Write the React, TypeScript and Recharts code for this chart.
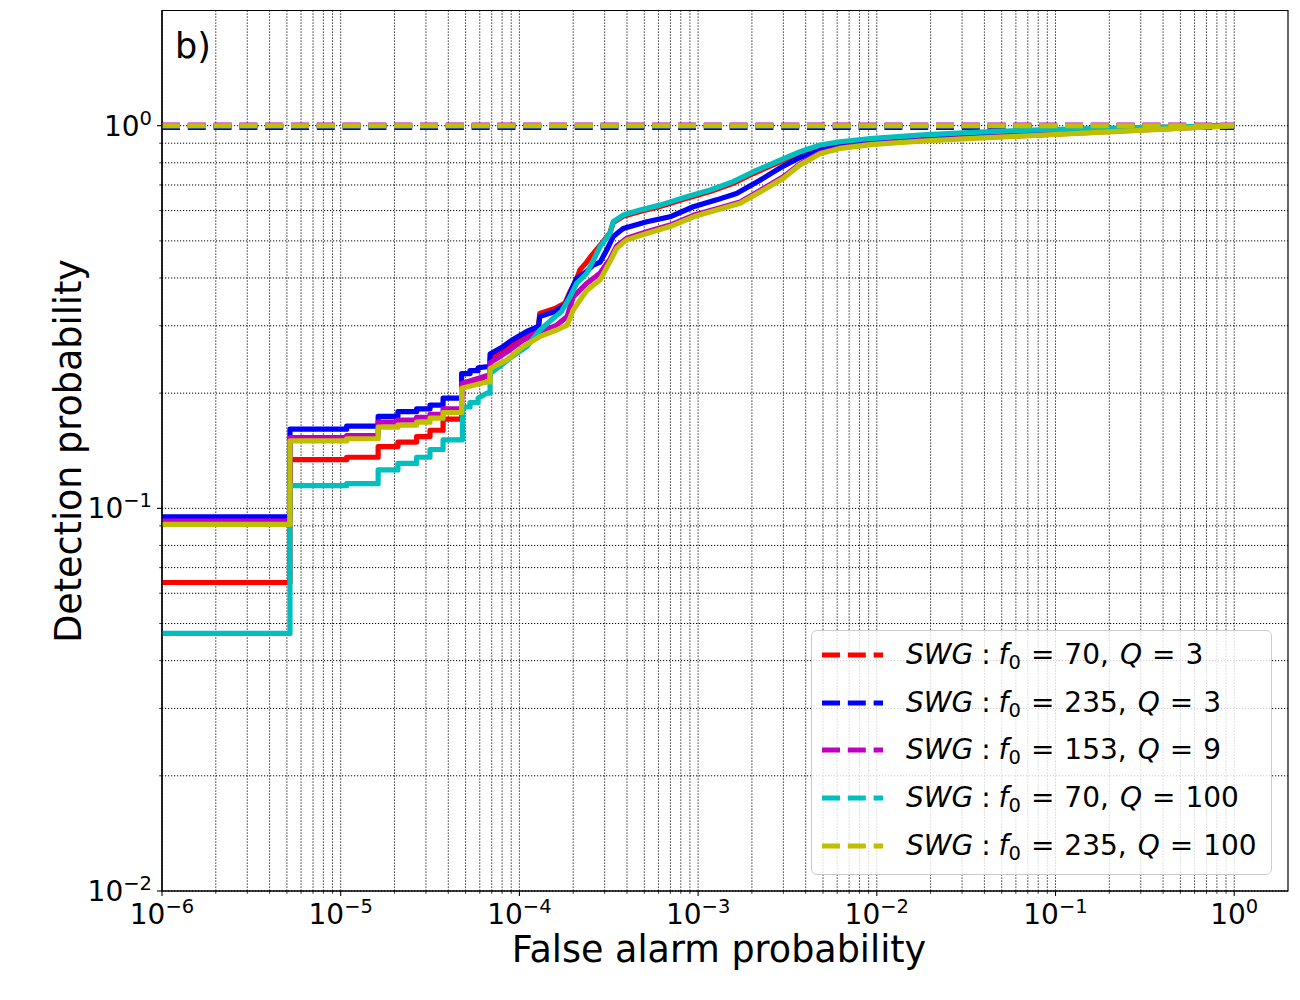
import React from 'react';
import { CartesianGrid, Legend, Line, LineChart, ReferenceArea, XAxis, YAxis } from 'recharts';

// series order: solid ROC curve + dashed reference per detector
const COLORS = ['#ff0000', '#0000ff', '#bf00bf', '#00bfbf', '#bfbf00'];
const F0 = [70, 235, 153, 70, 235];
const QS = [3, 3, 9, 100, 100];
const REF_LEVEL = [1.0, 0.989, 1.004, 1.0, 1.0];
const REF_FA = [1e-6, 1];

// [false alarm, detection]
const ROC_RED = [
  [1e-6, 0.064], [5.2e-6, 0.064], [5.2e-6, 0.134], [1.08e-5, 0.134], [1.08e-5, 0.136], [1.62e-5, 0.136],
  [1.62e-5, 0.145], [2.09e-5, 0.145], [2.09e-5, 0.149], [2.66e-5, 0.149], [2.66e-5, 0.154], [3.16e-5, 0.154],
  [3.16e-5, 0.16], [3.74e-5, 0.16], [3.74e-5, 0.171], [4.75e-5, 0.171], [4.75e-5, 0.208], [5.3e-5, 0.212],
  [5.9e-5, 0.216], [6.6e-5, 0.222], [6.85e-5, 0.222], [6.85e-5, 0.246], [8.1e-5, 0.258], [9.1e-5, 0.268],
  [1.1e-4, 0.285], [1.28e-4, 0.3], [1.3e-4, 0.323], [1.58e-4, 0.333], [1.8e-4, 0.344], [1.92e-4, 0.368],
  [2.09e-4, 0.397], [2.18e-4, 0.42], [2.38e-4, 0.44], [2.48e-4, 0.452], [2.83e-4, 0.487], [3.21e-4, 0.525],
  [3.35e-4, 0.558], [3.81e-4, 0.58], [4.73e-4, 0.597], [6.12e-4, 0.615], [8.64e-4, 0.646], [1.17e-3, 0.673],
  [1.57e-3, 0.707], [2.04e-3, 0.75], [2.75e-3, 0.797], [3.72e-3, 0.846], [4.81e-3, 0.882], [6.22e-3, 0.901],
  [9.56e-3, 0.921], [1.82e-2, 0.941], [3.47e-2, 0.956], [8.19e-2, 0.971], [0.215, 0.983], [1, 1],
];
const ROC_BLUE = [
  [1e-6, 0.095], [5.2e-6, 0.095], [5.2e-6, 0.161], [1.08e-5, 0.161], [1.08e-5, 0.164], [1.62e-5, 0.164],
  [1.62e-5, 0.174], [2.09e-5, 0.174], [2.09e-5, 0.179], [2.66e-5, 0.179], [2.66e-5, 0.182], [3.16e-5, 0.182],
  [3.16e-5, 0.186], [3.74e-5, 0.186], [3.74e-5, 0.194], [4.75e-5, 0.194], [4.75e-5, 0.225], [5.29e-5, 0.225],
  [5.29e-5, 0.229], [5.87e-5, 0.229], [5.87e-5, 0.233], [6.85e-5, 0.235], [6.85e-5, 0.253], [8.13e-5, 0.265],
  [9.06e-5, 0.275], [1.1e-4, 0.29], [1.28e-4, 0.299], [1.3e-4, 0.317], [1.58e-4, 0.327], [1.8e-4, 0.34],
  [1.92e-4, 0.365], [2.09e-4, 0.399], [2.38e-4, 0.416], [2.59e-4, 0.432], [2.83e-4, 0.44], [3.08e-4, 0.473],
  [3.35e-4, 0.513], [3.81e-4, 0.539], [5.16e-4, 0.561], [6.96e-4, 0.578], [9.4e-4, 0.614], [1.27e-3, 0.64],
  [1.64e-3, 0.665], [2.22e-3, 0.72], [2.87e-3, 0.775], [3.72e-3, 0.826], [4.81e-3, 0.862], [6.22e-3, 0.886],
  [9.56e-3, 0.907], [1.82e-2, 0.926], [3.47e-2, 0.94], [8.19e-2, 0.955], [0.215, 0.975], [1, 1],
];
const ROC_MAGENTA = [
  [1e-6, 0.0926], [5.2e-6, 0.0926], [5.2e-6, 0.153], [1.08e-5, 0.153], [1.08e-5, 0.155], [1.62e-5, 0.155],
  [1.62e-5, 0.168], [2.09e-5, 0.168], [2.09e-5, 0.17], [2.66e-5, 0.17], [2.66e-5, 0.173], [3.16e-5, 0.173],
  [3.16e-5, 0.176], [3.74e-5, 0.176], [3.74e-5, 0.182], [4.75e-5, 0.182], [4.75e-5, 0.212], [6.56e-5, 0.222],
  [6.85e-5, 0.222], [6.85e-5, 0.24], [8.5e-5, 0.256], [1.05e-4, 0.275], [1.3e-4, 0.29], [1.6e-4, 0.3],
  [1.85e-4, 0.317], [2.0e-4, 0.357], [2.38e-4, 0.387], [2.83e-4, 0.412], [3.2e-4, 0.447], [3.5e-4, 0.485],
  [3.98e-4, 0.508], [5.16e-4, 0.528], [6.96e-4, 0.55], [9.4e-4, 0.583], [1.27e-3, 0.607], [1.72e-3, 0.632],
  [2.32e-3, 0.685], [3.0e-3, 0.735], [3.72e-3, 0.795], [4.81e-3, 0.85], [6.22e-3, 0.876], [9.56e-3, 0.897],
  [1.82e-2, 0.915], [3.47e-2, 0.93], [8.19e-2, 0.946], [0.215, 0.967], [1, 1],
];
const ROC_CYAN = [
  [1e-6, 0.0471], [5.2e-6, 0.0471], [5.2e-6, 0.1146], [1.08e-5, 0.1146], [1.08e-5, 0.116], [1.62e-5, 0.116],
  [1.62e-5, 0.126], [2.09e-5, 0.126], [2.09e-5, 0.131], [2.66e-5, 0.131], [2.66e-5, 0.136], [3.16e-5, 0.136],
  [3.16e-5, 0.1425], [3.74e-5, 0.1425], [3.74e-5, 0.151], [4.8e-5, 0.151], [4.8e-5, 0.184], [5.29e-5, 0.184],
  [5.29e-5, 0.189], [5.87e-5, 0.189], [5.87e-5, 0.194], [6.56e-5, 0.2], [6.85e-5, 0.2], [6.85e-5, 0.225],
  [8.13e-5, 0.239], [9.06e-5, 0.249], [1.1e-4, 0.2645], [1.3e-4, 0.292], [1.5e-4, 0.31], [1.72e-4, 0.327],
  [1.92e-4, 0.357], [2.09e-4, 0.387], [2.38e-4, 0.411], [2.6e-4, 0.446], [2.83e-4, 0.483], [3.21e-4, 0.523],
  [3.35e-4, 0.561], [3.81e-4, 0.584], [4.73e-4, 0.602], [6.12e-4, 0.62], [8.64e-4, 0.652], [1.17e-3, 0.679],
  [1.57e-3, 0.714], [2.04e-3, 0.758], [2.75e-3, 0.805], [3.72e-3, 0.855], [4.81e-3, 0.89], [6.22e-3, 0.908],
  [9.56e-3, 0.927], [1.82e-2, 0.946], [3.47e-2, 0.961], [8.19e-2, 0.975], [0.215, 0.986], [1, 1],
];
const ROC_YELLOW = [
  [1e-6, 0.0908], [5.2e-6, 0.0908], [5.2e-6, 0.15], [1.08e-5, 0.15], [1.08e-5, 0.152], [1.62e-5, 0.152],
  [1.62e-5, 0.163], [2.09e-5, 0.163], [2.09e-5, 0.165], [2.66e-5, 0.165], [2.66e-5, 0.168], [3.16e-5, 0.168],
  [3.16e-5, 0.172], [3.74e-5, 0.172], [3.74e-5, 0.178], [4.75e-5, 0.178], [4.75e-5, 0.206], [6.56e-5, 0.214],
  [6.85e-5, 0.214], [6.85e-5, 0.232], [8.5e-5, 0.244], [1.05e-4, 0.265], [1.3e-4, 0.281], [1.6e-4, 0.292],
  [1.85e-4, 0.301], [2.0e-4, 0.33], [2.38e-4, 0.371], [2.83e-4, 0.396], [3.2e-4, 0.44], [3.5e-4, 0.478],
  [3.98e-4, 0.503], [5.16e-4, 0.523], [6.96e-4, 0.545], [9.4e-4, 0.578], [1.27e-3, 0.602], [1.72e-3, 0.627],
  [2.32e-3, 0.679], [3.0e-3, 0.729], [3.72e-3, 0.79], [4.81e-3, 0.845], [6.22e-3, 0.872], [9.56e-3, 0.894],
  [1.82e-2, 0.912], [3.47e-2, 0.927], [8.19e-2, 0.944], [0.215, 0.965], [1, 1],
];
const ROC = [ROC_RED, ROC_BLUE, ROC_MAGENTA, ROC_CYAN, ROC_YELLOW];

// log axes
const X_DECADES = [-6, -5, -4, -3, -2, -1, 0];
const Y_DECADES = [-2, -1, 0];
const LOG_STEPS = [1, 2, 3, 4, 5, 6, 7, 8, 9];
const X_DOMAIN = [1e-6, 2];
const Y_DOMAIN = [0.01, 2];

const FONT = 'DejaVu Sans';

const logTicks = (decades: number[], max: number) =>
  decades.flatMap((e) => LOG_STEPS.map((m) => m * 10 ** e)).filter((v) => v < max * 0.999);

const X_TICKS = logTicks(X_DECADES, X_DOMAIN[1]);
const Y_TICKS = logTicks(Y_DECADES, Y_DOMAIN[1]);

const exponentOf = (v: number) => Math.round(Math.log10(v));
const isMajor = (v: number) => Math.abs(Math.log10(v) - exponentOf(v)) < 1e-6;
const expText = (v: number) => {
  const e = exponentOf(v);
  return e < 0 ? `\u2212${-e}` : `${e}`;
};

const legendName = (i: number) => `SWG: f0=${F0[i]}, Q=${QS[i]}`;

function XTick(props: any) {
  const { x, y, payload } = props;
  const major = isMajor(payload.value);
  return (
    <g>
      <line x1={x} x2={x} y1={y} y2={y + (major ? 5 : 2.8)} stroke="#000" strokeWidth={major ? 1.1 : 0.8} />
      {major && (
        <text x={x} y={y + 33} textAnchor="middle" fontFamily={FONT} fontSize={28} fill="#000">
          10<tspan dy={-11} fontSize={19.5}>{expText(payload.value)}</tspan>
        </text>
      )}
    </g>
  );
}

function YTick(props: any) {
  const { x, y, payload } = props;
  const major = isMajor(payload.value);
  return (
    <g>
      <line x1={x} x2={x - (major ? 5 : 2.8)} y1={y} y2={y} stroke="#000" strokeWidth={major ? 1.1 : 0.8} />
      {major && (
        <text x={x - 10} y={y + 10} textAnchor="end" fontFamily={FONT} fontSize={28} fill="#000">
          10<tspan dy={-11} fontSize={19.5}>{expText(payload.value)}</tspan>
        </text>
      )}
    </g>
  );
}

function LegendLabel({ i }: { i: number }) {
  return (
    <span style={{ whiteSpace: 'nowrap' }}>
      <i>SWG</i>
      <span style={{ margin: '0 8px' }}>:</span>
      <i>f</i>
      <span style={{ fontSize: 19.5, position: 'relative', top: 5 }}>0</span>
      <span style={{ margin: '0 10px' }}>=</span>
      {F0[i]},
      <i style={{ marginLeft: 11 }}>Q</i>
      <span style={{ margin: '0 10px' }}>=</span>
      {QS[i]}
    </span>
  );
}

function renderLegend(props: any) {
  const payload = props.payload || [];
  return (
    <div
      style={{
        boxSizing: 'border-box',
        width: 461,
        height: 245,
        border: '1px solid #cccccc',
        borderRadius: 6,
        background: 'rgba(255,255,255,0.8)',
        fontFamily: FONT,
        fontSize: 28,
        color: '#000',
      }}
    >
      {F0.map((_, i) => {
        const entry = payload.find((p: any) => p.value === legendName(i));
        const color = entry?.color ?? COLORS[i];
        return (
          <div key={i} style={{ height: 47.7, display: 'flex', alignItems: 'center', lineHeight: 1 }}>
            <svg width={61} height={10} style={{ marginLeft: 10, marginRight: 23, flex: 'none' }}>
              <line x1={0} x2={61} y1={5} y2={5} stroke={color} strokeWidth={5} strokeDasharray="18 7.8" />
            </svg>
            <LegendLabel i={i} />
          </div>
        );
      })}
    </div>
  );
}

export default function App() {
  return (
    <div style={{ position: 'absolute', left: 0, top: 0, width: 1300, height: 1000, background: '#fff' }}>
      <LineChart width={1300} height={1000} margin={{ top: 10.5, right: 12, bottom: 49, left: 62 }}>
        <CartesianGrid
          stroke="#000"
          strokeWidth={1}
          strokeDasharray="1.2 1.8"
          horizontalValues={Y_TICKS}
          verticalValues={X_TICKS}
        />
        <XAxis
          dataKey="fa"
          type="number"
          scale="log"
          domain={X_DOMAIN}
          allowDataOverflow
          ticks={X_TICKS}
          interval={0}
          tick={XTick}
          tickLine={false}
          tickSize={0}
          tickMargin={0}
          axisLine={{ stroke: '#000', strokeWidth: 1.2 }}
          height={60}
        />
        <YAxis
          type="number"
          scale="log"
          domain={Y_DOMAIN}
          allowDataOverflow
          ticks={Y_TICKS}
          interval={0}
          tick={YTick}
          tickLine={false}
          tickSize={0}
          tickMargin={0}
          axisLine={{ stroke: '#000', strokeWidth: 1.2 }}
          width={100}
        />
        {ROC.map((points, i) => [
          <Line
            key={`roc-${i}`}
            data={points.map(([fa, pd]) => ({ fa, pd }))}
            dataKey="pd"
            type="linear"
            stroke={COLORS[i]}
            strokeWidth={5.2}
            strokeLinejoin="round"
            dot={false}
            activeDot={false}
            legendType="none"
            isAnimationActive={false}
          />,
          <Line
            key={`ref-${i}`}
            name={legendName(i)}
            data={REF_FA.map((fa) => ({ fa, pd: REF_LEVEL[i] }))}
            dataKey="pd"
            type="linear"
            stroke={COLORS[i]}
            strokeWidth={5}
            strokeDasharray="18 7.8"
            dot={false}
            activeDot={false}
            isAnimationActive={false}
          />,
        ])}
        <ReferenceArea
          x1={X_DOMAIN[0]}
          x2={X_DOMAIN[1]}
          y1={Y_DOMAIN[0]}
          y2={Y_DOMAIN[1]}
          fill="none"
          stroke="#000"
          strokeWidth={1.2}
          ifOverflow="visible"
        />
        <Legend
          layout="vertical"
          align="center"
          verticalAlign="middle"
          content={renderLegend}
          wrapperStyle={{ left: 811, top: 630, width: 461, height: 245 }}
        />
      </LineChart>
      <svg
        width={1300}
        height={1000}
        style={{ position: 'absolute', left: 0, top: 0, pointerEvents: 'none' }}
      >
        <text x={719} y={962} textAnchor="middle" fontFamily={FONT} fontSize={36.5} fill="#000">
          False alarm probability
        </text>
        <text transform="translate(81 451) rotate(-90)" textAnchor="middle" fontFamily={FONT} fontSize={36.5} fill="#000">
          Detection probability
        </text>
        <text x={175} y={58} fontFamily={FONT} fontSize={35} fill="#000">
          b)
        </text>
      </svg>
    </div>
  );
}
